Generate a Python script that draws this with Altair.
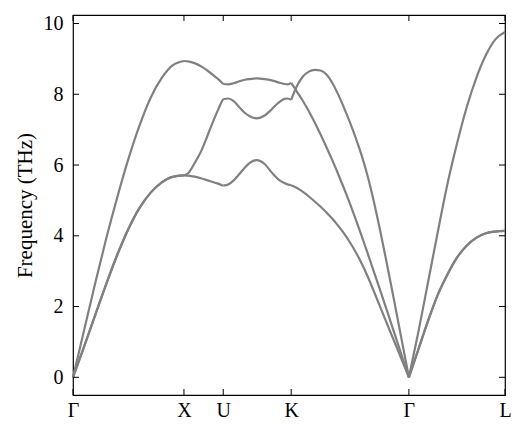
import altair as alt
import pandas as pd

# high-symmetry path (2pi/a units)
path_labels = ["Γ", "X", "U", "K", "Γ", "L"]
path_pos = [0.0, 1.0, 1.354, 1.966, 3.027, 3.893]

# Γ - X
f_GX = [0.0, 0.1, 0.2, 0.3, 0.4, 0.5, 0.6, 0.7, 0.8, 0.9, 1.0]
A_GX = [0.0, 1.33, 2.66, 3.93, 5.10, 6.18, 7.12, 7.90, 8.46, 8.82, 8.94]
B_GX = [0.0, 0.87, 1.76, 2.64, 3.47, 4.20, 4.79, 5.22, 5.51, 5.67, 5.71]
C_GX = [0.0, 0.87, 1.76, 2.64, 3.47, 4.20, 4.79, 5.22, 5.51, 5.67, 5.71]

# X - U
f_XU = [0.0, 0.1, 0.27, 0.45, 0.62, 0.79, 0.9, 0.96, 1.0]
A_XU = [8.94, 8.93, 8.88, 8.78, 8.65, 8.50, 8.40, 8.33, 8.29]
B_XU = [5.71, 5.76, 6.05, 6.42, 6.89, 7.36, 7.64, 7.79, 7.86]
C_XU = [5.71, 5.70, 5.67, 5.62, 5.56, 5.50, 5.46, 5.43, 5.42]

# U - K
f_UK = [0.0, 0.073, 0.15, 0.244, 0.32, 0.39, 0.49, 0.61, 0.7, 0.756, 0.82, 0.9, 0.95, 1.0]
A_UK = [8.29, 8.28, 8.31, 8.37, 8.41, 8.43, 8.45, 8.43, 8.40, 8.37, 8.33, 8.29, 8.28, 8.32]
B_UK = [7.86, 7.88, 7.81, 7.62, 7.47, 7.38, 7.32, 7.40, 7.55, 7.66, 7.77, 7.87, 7.88, 7.84]
C_UK = [5.42, 5.45, 5.56, 5.76, 5.93, 6.06, 6.14, 6.03, 5.82, 5.70, 5.58, 5.49, 5.45, 5.43]

# K - Γ
f_KG = [0.0, 0.05, 0.1, 0.15, 0.2, 0.25, 0.3, 0.35, 0.4, 0.45, 0.5,
        0.55, 0.6, 0.65, 0.7, 0.75, 0.8, 0.85, 0.9, 0.95, 1.0]
A_KG = [8.32, 8.07, 7.81, 7.52, 7.20, 6.86, 6.50, 6.13, 5.74, 5.33, 4.90,
        4.45, 3.98, 3.50, 3.01, 2.52, 2.02, 1.52, 1.01, 0.50, 0.0]
B_KG = [7.84, 8.24, 8.50, 8.64, 8.69, 8.67, 8.56, 8.32, 7.99, 7.61, 7.20,
        6.75, 6.26, 5.68, 5.00, 4.24, 3.43, 2.59, 1.73, 0.86, 0.0]
C_KG = [5.43, 5.35, 5.24, 5.11, 4.97, 4.82, 4.66, 4.48, 4.28, 4.06, 3.81,
        3.53, 3.21, 2.85, 2.45, 2.04, 1.63, 1.22, 0.82, 0.41, 0.0]

# Γ - L
f_GL = [0.0, 0.1, 0.2, 0.3, 0.4, 0.5, 0.6, 0.7, 0.8, 0.9, 1.0]
A_GL = [0.0, 1.30, 2.70, 4.10, 5.45, 6.60, 7.62, 8.45, 9.10, 9.55, 9.76]
B_GL = [0.0, 0.80, 1.60, 2.33, 2.90, 3.38, 3.72, 3.94, 4.07, 4.12, 4.14]
C_GL = [0.0, 0.80, 1.60, 2.33, 2.90, 3.38, 3.72, 3.94, 4.07, 4.12, 4.14]

y_ticks = [0, 2, 4, 6, 8, 10]

segments = [
    (0, f_GX, {"A": A_GX, "B": B_GX, "C": C_GX}),
    (1, f_XU, {"A": A_XU, "B": B_XU, "C": C_XU}),
    (2, f_UK, {"A": A_UK, "B": B_UK, "C": C_UK}),
    (3, f_KG, {"A": A_KG, "B": B_KG, "C": C_KG}),
    (4, f_GL, {"A": A_GL, "B": B_GL, "C": C_GL}),
]

rows = []
for seg, fr, bands in segments:
    x0, x1 = path_pos[seg], path_pos[seg + 1]
    for band, vals in bands.items():
        for i, (t, v) in enumerate(zip(fr, vals)):
            rows.append({"piece": f"{band}{seg}", "k": x0 + t * (x1 - x0),
                         "freq": v, "ord": i})
df = pd.DataFrame(rows)

xmin, xmax = path_pos[0], path_pos[-1]
ymin, ymax = -0.5, 10.24
W, H = 432, 380
FONT = "'Liberation Serif', 'Times New Roman', serif"
LFS = 20
TFS = 21

label_expr = ("datum.value < 0.5 ? 'Γ' : datum.value < 1.2 ? 'X' : "
              "datum.value < 1.6 ? 'U' : datum.value < 2.5 ? 'K' : "
              "datum.value < 3.5 ? 'Γ' : 'L'")

xscale = alt.Scale(domain=[xmin, xmax], nice=False, zero=False)
yscale = alt.Scale(domain=[ymin, ymax], nice=False, zero=False)

xaxis = alt.Axis(values=path_pos, labelExpr=label_expr, title=None,
                 grid=False, domain=False, ticks=False, tickSize=0,
                 labelPadding=5, labelFlush=False,
                 labelFont=FONT, labelFontSize=LFS, labelColor="black")
yaxis = alt.Axis(values=y_ticks, title="Frequency (THz)", grid=False,
                 domain=False, ticks=False, tickSize=0, labelPadding=10,
                 titlePadding=8, labelFont=FONT, labelFontSize=LFS,
                 labelColor="black", titleFont=FONT, titleFontSize=TFS,
                 titleFontWeight="normal", titleColor="black")

lines = alt.Chart(df).mark_line(color="#808080", strokeWidth=2.2,
                                interpolate="monotone").encode(
    x=alt.X("k:Q", scale=xscale, axis=xaxis),
    y=alt.Y("freq:Q", scale=yscale, axis=yaxis),
    detail="piece:N",
    order="ord:Q",
)

ydf = pd.DataFrame({"v": y_ticks})
xdf = pd.DataFrame({"k": path_pos})

ytick_l = alt.Chart(ydf).mark_rule(color="black", strokeWidth=1).encode(
    y=alt.Y("v:Q", scale=yscale, axis=yaxis), x=alt.value(0), x2=alt.value(6))
ytick_r = alt.Chart(ydf).mark_rule(color="black", strokeWidth=1).encode(
    y=alt.Y("v:Q", scale=yscale, axis=yaxis), x=alt.value(W), x2=alt.value(W - 6))
xtick_b = alt.Chart(xdf).mark_rule(color="black", strokeWidth=1).encode(
    x=alt.X("k:Q", scale=xscale, axis=xaxis), y=alt.value(H), y2=alt.value(H - 6))
xtick_t = alt.Chart(xdf).mark_rule(color="black", strokeWidth=1).encode(
    x=alt.X("k:Q", scale=xscale, axis=xaxis), y=alt.value(0), y2=alt.value(6))

chart = alt.layer(lines, ytick_l, ytick_r, xtick_b, xtick_t).properties(
    width=W, height=H,
    autosize=alt.AutoSizeParams(type="none"),
    padding={"left": 65, "top": 7, "right": 12, "bottom": 30},
).configure(
    background="white",
).configure_view(
    stroke="black", strokeWidth=1.2,
)

chart.save("out.html", embed_options={"renderer": "svg", "actions": False})
